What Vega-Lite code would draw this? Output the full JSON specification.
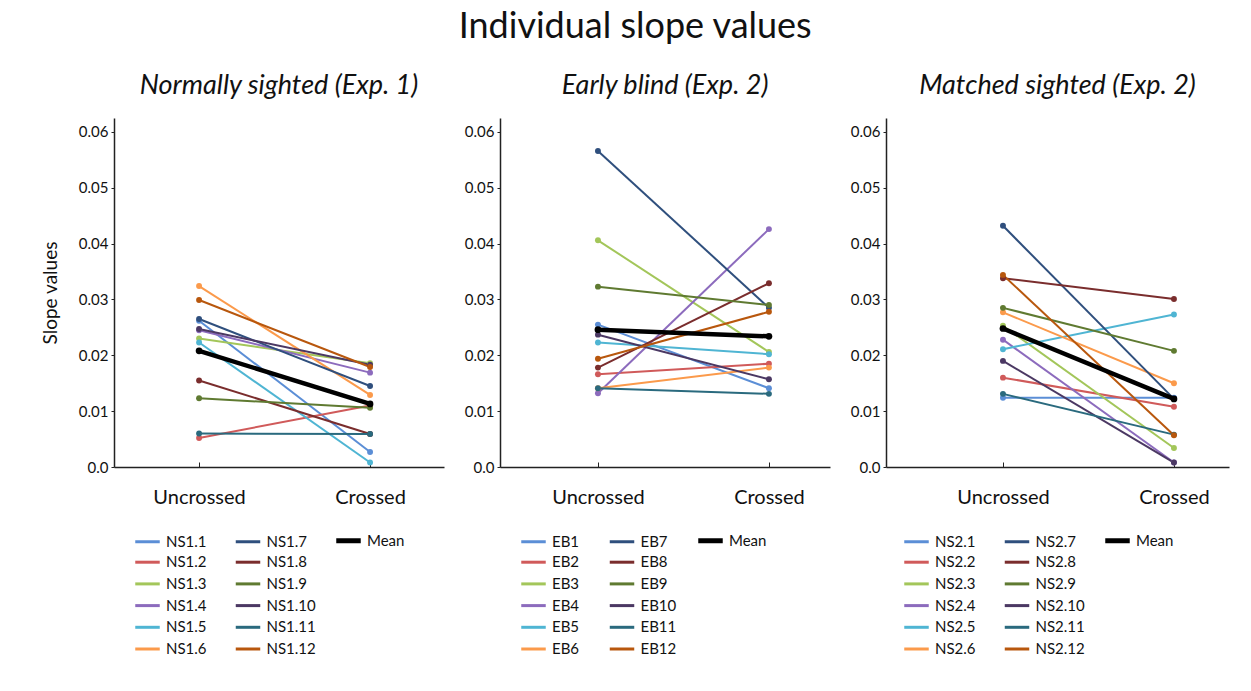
{
  "$schema": "https://vega.github.io/schema/vega-lite/v6.json",
  "background": "white",
  "padding": {"left": 41, "top": 9, "right": 10, "bottom": 10},
  "title": {"text": "Individual slope values", "fontSize": 36, "font": "Lato", "fontStyle": "normal", "fontWeight": "normal", "color": "#111111", "anchor": "middle", "offset": 26},
  "spacing": 20,
  "config": {
    "view": {"stroke": null},
    "axis": {"labelFont": "Lato", "titleFont": "Lato", "domainColor": "#222222", "domainWidth": 1.5, "tickColor": "#222222", "tickWidth": 1, "labelColor": "#111111", "titleColor": "#111111", "grid": false, "titleFontWeight": "normal"},
    "axisY": {"tickSize": 3, "labelFontSize": 15, "titleFontSize": 19, "labelPadding": 3, "titlePadding": 18},
    "axisX": {"tickSize": -5, "labelFontSize": 20, "labelPadding": 25, "title": null},
    "legend": {"labelFont": "Lato", "labelFontSize": 15, "labelColor": "#111111", "symbolType": "stroke", "symbolSize": 600, "symbolStrokeWidth": 3, "rowPadding": 3.7, "columnPadding": 9.5, "gridAlign": "all", "labelOffset": 11},
    "title": {"font": "Lato", "fontSize": 27, "fontStyle": "italic", "fontWeight": "normal", "color": "#111111", "offset": 18}
  },
  "datasets": {
    "ns1": [
      {"subject": "NS1.1", "condition": "Uncrossed", "slope": 0.0262}, {"subject": "NS1.1", "condition": "Crossed", "slope": 0.0027},
      {"subject": "NS1.2", "condition": "Uncrossed", "slope": 0.0052}, {"subject": "NS1.2", "condition": "Crossed", "slope": 0.0110},
      {"subject": "NS1.3", "condition": "Uncrossed", "slope": 0.0230}, {"subject": "NS1.3", "condition": "Crossed", "slope": 0.0186},
      {"subject": "NS1.4", "condition": "Uncrossed", "slope": 0.0245}, {"subject": "NS1.4", "condition": "Crossed", "slope": 0.0169},
      {"subject": "NS1.5", "condition": "Uncrossed", "slope": 0.0223}, {"subject": "NS1.5", "condition": "Crossed", "slope": 0.0008},
      {"subject": "NS1.6", "condition": "Uncrossed", "slope": 0.0324}, {"subject": "NS1.6", "condition": "Crossed", "slope": 0.0129},
      {"subject": "NS1.7", "condition": "Uncrossed", "slope": 0.0265}, {"subject": "NS1.7", "condition": "Crossed", "slope": 0.0145},
      {"subject": "NS1.8", "condition": "Uncrossed", "slope": 0.0155}, {"subject": "NS1.8", "condition": "Crossed", "slope": 0.0059},
      {"subject": "NS1.9", "condition": "Uncrossed", "slope": 0.0123}, {"subject": "NS1.9", "condition": "Crossed", "slope": 0.0106},
      {"subject": "NS1.10", "condition": "Uncrossed", "slope": 0.0247}, {"subject": "NS1.10", "condition": "Crossed", "slope": 0.0183},
      {"subject": "NS1.11", "condition": "Uncrossed", "slope": 0.0060}, {"subject": "NS1.11", "condition": "Crossed", "slope": 0.0059},
      {"subject": "NS1.12", "condition": "Uncrossed", "slope": 0.0299}, {"subject": "NS1.12", "condition": "Crossed", "slope": 0.0179},
      {"subject": "Mean", "condition": "Uncrossed", "slope": 0.0208}, {"subject": "Mean", "condition": "Crossed", "slope": 0.0113}
    ],
    "eb": [
      {"subject": "EB1", "condition": "Uncrossed", "slope": 0.0255}, {"subject": "EB1", "condition": "Crossed", "slope": 0.0141},
      {"subject": "EB2", "condition": "Uncrossed", "slope": 0.0166}, {"subject": "EB2", "condition": "Crossed", "slope": 0.0185},
      {"subject": "EB3", "condition": "Uncrossed", "slope": 0.0406}, {"subject": "EB3", "condition": "Crossed", "slope": 0.0206},
      {"subject": "EB4", "condition": "Uncrossed", "slope": 0.0132}, {"subject": "EB4", "condition": "Crossed", "slope": 0.0426},
      {"subject": "EB5", "condition": "Uncrossed", "slope": 0.0223}, {"subject": "EB5", "condition": "Crossed", "slope": 0.0202},
      {"subject": "EB6", "condition": "Uncrossed", "slope": 0.0141}, {"subject": "EB6", "condition": "Crossed", "slope": 0.0178},
      {"subject": "EB7", "condition": "Uncrossed", "slope": 0.0566}, {"subject": "EB7", "condition": "Crossed", "slope": 0.0285},
      {"subject": "EB8", "condition": "Uncrossed", "slope": 0.0178}, {"subject": "EB8", "condition": "Crossed", "slope": 0.0329},
      {"subject": "EB9", "condition": "Uncrossed", "slope": 0.0323}, {"subject": "EB9", "condition": "Crossed", "slope": 0.0290},
      {"subject": "EB10", "condition": "Uncrossed", "slope": 0.0237}, {"subject": "EB10", "condition": "Crossed", "slope": 0.0157},
      {"subject": "EB11", "condition": "Uncrossed", "slope": 0.0141}, {"subject": "EB11", "condition": "Crossed", "slope": 0.0131},
      {"subject": "EB12", "condition": "Uncrossed", "slope": 0.0194}, {"subject": "EB12", "condition": "Crossed", "slope": 0.0278},
      {"subject": "Mean", "condition": "Uncrossed", "slope": 0.0246}, {"subject": "Mean", "condition": "Crossed", "slope": 0.0234}
    ],
    "ns2": [
      {"subject": "NS2.1", "condition": "Uncrossed", "slope": 0.0124}, {"subject": "NS2.1", "condition": "Crossed", "slope": 0.0124},
      {"subject": "NS2.2", "condition": "Uncrossed", "slope": 0.0160}, {"subject": "NS2.2", "condition": "Crossed", "slope": 0.0108},
      {"subject": "NS2.3", "condition": "Uncrossed", "slope": 0.0253}, {"subject": "NS2.3", "condition": "Crossed", "slope": 0.0034},
      {"subject": "NS2.4", "condition": "Uncrossed", "slope": 0.0228}, {"subject": "NS2.4", "condition": "Crossed", "slope": 0.0008},
      {"subject": "NS2.5", "condition": "Uncrossed", "slope": 0.0211}, {"subject": "NS2.5", "condition": "Crossed", "slope": 0.0273},
      {"subject": "NS2.6", "condition": "Uncrossed", "slope": 0.0277}, {"subject": "NS2.6", "condition": "Crossed", "slope": 0.0150},
      {"subject": "NS2.7", "condition": "Uncrossed", "slope": 0.0432}, {"subject": "NS2.7", "condition": "Crossed", "slope": 0.0122},
      {"subject": "NS2.8", "condition": "Uncrossed", "slope": 0.0338}, {"subject": "NS2.8", "condition": "Crossed", "slope": 0.0301},
      {"subject": "NS2.9", "condition": "Uncrossed", "slope": 0.0285}, {"subject": "NS2.9", "condition": "Crossed", "slope": 0.0208},
      {"subject": "NS2.10", "condition": "Uncrossed", "slope": 0.0190}, {"subject": "NS2.10", "condition": "Crossed", "slope": 0.0008},
      {"subject": "NS2.11", "condition": "Uncrossed", "slope": 0.0131}, {"subject": "NS2.11", "condition": "Crossed", "slope": 0.0058},
      {"subject": "NS2.12", "condition": "Uncrossed", "slope": 0.0344}, {"subject": "NS2.12", "condition": "Crossed", "slope": 0.0057},
      {"subject": "Mean", "condition": "Uncrossed", "slope": 0.0248}, {"subject": "Mean", "condition": "Crossed", "slope": 0.0122}
    ]
  },
  "hconcat": [
    {
      "width": 330, "height": 349,
      "title": "Normally sighted (Exp. 1)",
      "data": {"name": "ns1"},
      "encoding": {
        "x": {"field": "condition", "type": "nominal", "sort": ["Uncrossed", "Crossed"], "scale": {"type": "point", "padding": 0.465, "align": 0.535}, "axis": {"labelAngle": 0}},
        "y": {"field": "slope", "type": "quantitative", "scale": {"domain": [0, 0.0625], "nice": false}, "axis": {"title": "Slope values", "values": [0, 0.01, 0.02, 0.03, 0.04, 0.05, 0.06], "labelExpr": "datum.value === 0 ? '0.0' : format(datum.value, '.2f')"}},
        "color": {"field": "subject", "type": "nominal",
          "scale": {"domain": ["NS1.1", "NS1.2", "NS1.3", "NS1.4", "NS1.5", "NS1.6", "NS1.7", "NS1.8", "NS1.9", "NS1.10", "NS1.11", "NS1.12", "Mean", "_1", "_2", "_3", "_4", "_5"],
                    "range": ["#5b8ed6", "#d05a5a", "#a3c65a", "#8c6bbd", "#4fb5d3", "#fb9a4b", "#2f4f7d", "#7a2d2d", "#5f7a31", "#4b3863", "#2a6a7e", "#b8570d", "#000000", "rgba(0,0,0,0)", "rgba(0,0,0,0)", "rgba(0,0,0,0)", "rgba(0,0,0,0)", "rgba(0,0,0,0)"]},
          "legend": {"title": null, "orient": "none", "legendX": 26, "legendY": 415, "columns": 3, "labelExpr": "indexof(datum.label, '_') === 0 ? '' : datum.label",
                     "encode": {"symbols": {"update": {"strokeWidth": {"signal": "datum.value === 'Mean' ? 5 : 3"}}}}}}
      },
      "layer": [
        {"transform": [{"filter": "datum.subject !== 'Mean'"}], "mark": {"type": "line", "strokeWidth": 2, "point": {"filled": true, "size": 35}}},
        {"transform": [{"filter": "datum.subject === 'Mean'"}], "mark": {"type": "line", "strokeWidth": 4.5, "point": {"filled": true, "size": 45}}}
      ]
    },
    {
      "width": 330, "height": 349,
      "title": "Early blind (Exp. 2)",
      "data": {"name": "eb"},
      "encoding": {
        "x": {"field": "condition", "type": "nominal", "sort": ["Uncrossed", "Crossed"], "scale": {"type": "point", "padding": 0.465, "align": 0.616}, "axis": {"labelAngle": 0}},
        "y": {"field": "slope", "type": "quantitative", "scale": {"domain": [0, 0.0625], "nice": false}, "axis": {"title": null, "values": [0, 0.01, 0.02, 0.03, 0.04, 0.05, 0.06], "labelExpr": "datum.value === 0 ? '0.0' : format(datum.value, '.2f')"}},
        "color": {"field": "subject", "type": "nominal",
          "scale": {"domain": ["EB1", "EB2", "EB3", "EB4", "EB5", "EB6", "EB7", "EB8", "EB9", "EB10", "EB11", "EB12", "Mean", "_1", "_2", "_3", "_4", "_5"],
                    "range": ["#5b8ed6", "#d05a5a", "#a3c65a", "#8c6bbd", "#4fb5d3", "#fb9a4b", "#2f4f7d", "#7a2d2d", "#5f7a31", "#4b3863", "#2a6a7e", "#b8570d", "#000000", "rgba(0,0,0,0)", "rgba(0,0,0,0)", "rgba(0,0,0,0)", "rgba(0,0,0,0)", "rgba(0,0,0,0)"]},
          "legend": {"title": null, "orient": "none", "legendX": 26, "legendY": 415, "columns": 3, "labelExpr": "indexof(datum.label, '_') === 0 ? '' : datum.label",
                     "encode": {"symbols": {"update": {"strokeWidth": {"signal": "datum.value === 'Mean' ? 5 : 3"}}}}}}
      },
      "layer": [
        {"transform": [{"filter": "datum.subject !== 'Mean'"}], "mark": {"type": "line", "strokeWidth": 2, "point": {"filled": true, "size": 35}}},
        {"transform": [{"filter": "datum.subject === 'Mean'"}], "mark": {"type": "line", "strokeWidth": 4.5, "point": {"filled": true, "size": 45}}}
      ]
    },
    {
      "width": 343, "height": 349,
      "title": "Matched sighted (Exp. 2)",
      "data": {"name": "ns2"},
      "encoding": {
        "x": {"field": "condition", "type": "nominal", "sort": ["Uncrossed", "Crossed"], "scale": {"type": "point", "padding": 0.503, "align": 0.68}, "axis": {"labelAngle": 0}},
        "y": {"field": "slope", "type": "quantitative", "scale": {"domain": [0, 0.0625], "nice": false}, "axis": {"title": null, "values": [0, 0.01, 0.02, 0.03, 0.04, 0.05, 0.06], "labelExpr": "datum.value === 0 ? '0.0' : format(datum.value, '.2f')"}},
        "color": {"field": "subject", "type": "nominal",
          "scale": {"domain": ["NS2.1", "NS2.2", "NS2.3", "NS2.4", "NS2.5", "NS2.6", "NS2.7", "NS2.8", "NS2.9", "NS2.10", "NS2.11", "NS2.12", "Mean", "_1", "_2", "_3", "_4", "_5"],
                    "range": ["#5b8ed6", "#d05a5a", "#a3c65a", "#8c6bbd", "#4fb5d3", "#fb9a4b", "#2f4f7d", "#7a2d2d", "#5f7a31", "#4b3863", "#2a6a7e", "#b8570d", "#000000", "rgba(0,0,0,0)", "rgba(0,0,0,0)", "rgba(0,0,0,0)", "rgba(0,0,0,0)", "rgba(0,0,0,0)"]},
          "legend": {"title": null, "orient": "none", "legendX": 23, "legendY": 415, "columns": 3, "labelExpr": "indexof(datum.label, '_') === 0 ? '' : datum.label",
                     "encode": {"symbols": {"update": {"strokeWidth": {"signal": "datum.value === 'Mean' ? 5 : 3"}}}}}}
      },
      "layer": [
        {"transform": [{"filter": "datum.subject !== 'Mean'"}], "mark": {"type": "line", "strokeWidth": 2, "point": {"filled": true, "size": 35}}},
        {"transform": [{"filter": "datum.subject === 'Mean'"}], "mark": {"type": "line", "strokeWidth": 4.5, "point": {"filled": true, "size": 45}}}
      ]
    }
  ],
  "resolve": {"scale": {"color": "independent", "x": "independent"}, "legend": {"color": "independent"}}
}
